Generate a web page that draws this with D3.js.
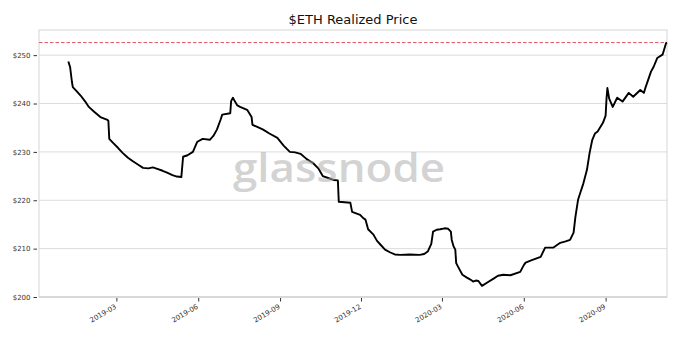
<!DOCTYPE html>
<html>
<head>
<meta charset="utf-8">
<script src="https://cdn.jsdelivr.net/npm/d3@7"></script>
<style>
  html, body { margin: 0; padding: 0; background: #fff; }
  svg { display: block; font-family: "DejaVu Sans", sans-serif; }
</style>
</head>
<body>
<svg id="chart" width="680" height="340"></svg>
<script>
// ETH realized price, sampled at the turning points of the curve
const dates = [
  "2019-01-06","2019-01-08","2019-01-10","2019-01-11","2019-01-15","2019-01-20","2019-01-25","2019-01-29",
  "2019-02-04","2019-02-11","2019-02-19",
  "2019-02-20","2019-02-21","2019-02-25","2019-03-03","2019-03-08","2019-03-14","2019-03-20","2019-03-26",
  "2019-03-31","2019-04-06","2019-04-11","2019-04-16","2019-04-22","2019-04-27",
  "2019-05-03","2019-05-08","2019-05-13","2019-05-15","2019-05-20","2019-05-26","2019-05-31","2019-06-06",
  "2019-06-14","2019-06-18","2019-06-22",
  "2019-06-26","2019-06-28","2019-07-07","2019-07-08","2019-07-10","2019-07-12","2019-07-15","2019-07-18",
  "2019-07-22","2019-07-26",
  "2019-07-31","2019-08-01","2019-08-07","2019-08-13","2019-08-20","2019-08-29","2019-09-05","2019-09-12",
  "2019-09-18","2019-09-24","2019-10-01","2019-10-08","2019-10-14","2019-10-19",
  "2019-10-25","2019-10-31","2019-11-05","2019-11-06","2019-11-19","2019-11-21","2019-11-30","2019-12-03",
  "2019-12-06","2019-12-09",
  "2019-12-15","2019-12-19","2019-12-23","2019-12-28","2020-01-03","2020-01-08","2020-01-14","2020-01-25",
  "2020-02-05","2020-02-10","2020-02-14","2020-02-18",
  "2020-02-20","2020-02-24","2020-02-28","2020-03-04","2020-03-08","2020-03-11","2020-03-12","2020-03-14",
  "2020-03-16","2020-03-17","2020-03-21",
  "2020-03-24","2020-03-29","2020-04-02","2020-04-05","2020-04-08","2020-04-11","2020-04-15","2020-04-21",
  "2020-04-28","2020-05-03","2020-05-09","2020-05-17","2020-05-28",
  "2020-06-01","2020-06-03","2020-06-10","2020-06-20","2020-06-25","2020-07-04","2020-07-12","2020-07-18",
  "2020-07-23","2020-07-27","2020-07-29","2020-08-01",
  "2020-08-04","2020-08-07","2020-08-11","2020-08-14","2020-08-17","2020-08-20","2020-08-23","2020-08-29",
  "2020-09-01","2020-09-02","2020-09-03",
  "2020-09-05","2020-09-09","2020-09-14","2020-09-20","2020-09-27","2020-10-02","2020-10-10","2020-10-14",
  "2020-10-16","2020-10-19","2020-10-22","2020-10-25","2020-10-29","2020-11-04","2020-11-08","2020-11-09"
];
const realizedPrice = [
  248.7, 247.5, 244.5, 243.4, 242.6, 241.6, 240.4, 239.3,
  238.3, 237.2, 236.6,
  236.4, 232.7, 231.9, 230.8, 229.8, 228.8, 228.0, 227.3,
  226.7, 226.6, 226.8, 226.5, 226.1, 225.7,
  225.2, 224.9, 224.8, 229.0, 229.3, 230.0, 232.1, 232.7,
  232.5, 233.3, 234.6,
  236.6, 237.7, 238.0, 240.5, 241.2, 240.5, 239.6, 239.3,
  239.0, 238.7,
  237.2, 235.6, 235.1, 234.6, 233.8, 232.9, 231.3, 230.0,
  229.9, 229.6, 228.5, 227.7, 226.6, 225.0,
  224.6, 224.2, 224.1, 219.7, 219.5, 217.6, 217.0, 216.4,
  216.0, 214.0,
  212.9, 211.6, 210.8, 209.8, 209.2, 208.8, 208.7, 208.8,
  208.7, 208.9, 209.4, 211.0,
  213.5, 213.9, 214.0, 214.2, 214.1, 213.5, 211.8, 210.5,
  209.8, 207.0, 205.6,
  204.6, 204.0, 203.6, 203.2, 203.4, 203.3, 202.3, 203.0,
  203.8, 204.4, 204.6, 204.5, 205.2,
  206.6, 207.1, 207.6, 208.3, 210.2, 210.2, 211.2, 211.5,
  211.8, 213.3, 216.5, 220.1,
  221.8, 223.5, 226.3, 229.8, 232.5, 233.8, 234.2, 236.0,
  237.5, 241.0, 243.2,
  241.0, 239.3, 241.2, 240.4, 242.2, 241.4, 242.8, 242.2,
  243.4, 245.0, 246.6, 247.6, 249.4, 250.1, 252.5, 252.6
];
const yTicks = [200, 210, 220, 230, 240, 250];
const xTickDates = ["2019-03-01","2019-06-01","2019-09-01","2019-12-01","2020-03-01","2020-06-01","2020-09-01"];
const xExtent = ["2018-12-04", "2020-11-09"];
const yExtent = [200, 255.2];

const parse = d3.utcParse("%Y-%m-%d");
const series = dates.map((d, i) => ({ date: parse(d), value: realizedPrice[i] }));
const latest = realizedPrice[realizedPrice.length - 1];

const svg = d3.select("#chart");
const plot = { left: 39, right: 667, top: 30, bottom: 297 };

const x = d3.scaleUtc().domain(xExtent.map(parse)).range([plot.left, plot.right]);
const y = d3.scaleLinear().domain(yExtent).range([plot.bottom, plot.top]);

// title
svg.append("text")
  .attr("x", (plot.left + plot.right) / 2)
  .attr("y", 24)
  .attr("text-anchor", "middle")
  .attr("font-size", 13)
  .attr("fill", "#111")
  .text("$ETH Realized Price");

// horizontal grid
svg.append("g")
  .selectAll("line")
  .data(yTicks)
  .join("line")
  .attr("x1", plot.left).attr("x2", plot.right)
  .attr("y1", d => y(d)).attr("y2", d => y(d))
  .attr("stroke", "#dcdcdc")
  .attr("stroke-width", 1);

// plot frame
svg.append("rect")
  .attr("x", plot.left).attr("y", plot.top)
  .attr("width", plot.right - plot.left)
  .attr("height", plot.bottom - plot.top)
  .attr("fill", "none")
  .attr("stroke", "#d6d6d6")
  .attr("stroke-width", 1);
svg.append("line")
  .attr("x1", plot.left).attr("x2", plot.right)
  .attr("y1", plot.bottom).attr("y2", plot.bottom)
  .attr("stroke", "#d8d8d8")
  .attr("stroke-width", 2);

// y axis
const yAxis = svg.append("g")
  .attr("transform", `translate(${plot.left - 2},0)`)
  .call(d3.axisLeft(y).tickValues(yTicks).tickSize(3.5).tickPadding(3)
    .tickFormat(d => "$" + d));
yAxis.select(".domain").remove();
yAxis.selectAll(".tick line").attr("stroke", "#333").attr("stroke-width", 1);
yAxis.selectAll(".tick text")
  .attr("font-family", "DejaVu Sans, sans-serif")
  .attr("font-size", 7).attr("fill", "#333");

// x axis
const xAxis = svg.append("g")
  .attr("transform", `translate(0,${plot.bottom + 1})`)
  .call(d3.axisBottom(x).tickValues(xTickDates.map(parse)).tickSize(3.5)
    .tickFormat(d3.utcFormat("%Y-%m")));
xAxis.select(".domain").remove();
xAxis.selectAll(".tick line").attr("stroke", "#333").attr("stroke-width", 1);
xAxis.selectAll(".tick text")
  .attr("font-family", "DejaVu Sans, sans-serif")
  .attr("font-size", 7).attr("fill", "#333")
  .attr("text-anchor", "end")
  .attr("dy", null)
  .attr("y", 0)
  .attr("transform", "translate(0,10) rotate(-30)");

// current realized price reference
svg.append("line")
  .attr("x1", plot.left).attr("x2", plot.right)
  .attr("y1", y(latest)).attr("y2", y(latest))
  .attr("stroke", "#e0566a")
  .attr("stroke-width", 1)
  .attr("stroke-dasharray", "3.5,2");

// price line
svg.append("path")
  .datum(series)
  .attr("fill", "none")
  .attr("stroke", "#000")
  .attr("stroke-width", 1.9)
  .attr("stroke-linejoin", "round")
  .attr("d", d3.line().x(d => x(d.date)).y(d => y(d.value)));

// watermark
svg.append("text")
  .attr("x", 233)
  .attr("y", 182)
  .attr("font-family", "Open Sans, sans-serif")
  .attr("font-weight", 600)
  .attr("font-size", 40)
  .attr("fill", "#a8a8a8")
  .attr("fill-opacity", 0.5)
  .attr("textLength", 212)
  .attr("lengthAdjust", "spacingAndGlyphs")
  .text("glassnode");
</script>
</body>
</html>
